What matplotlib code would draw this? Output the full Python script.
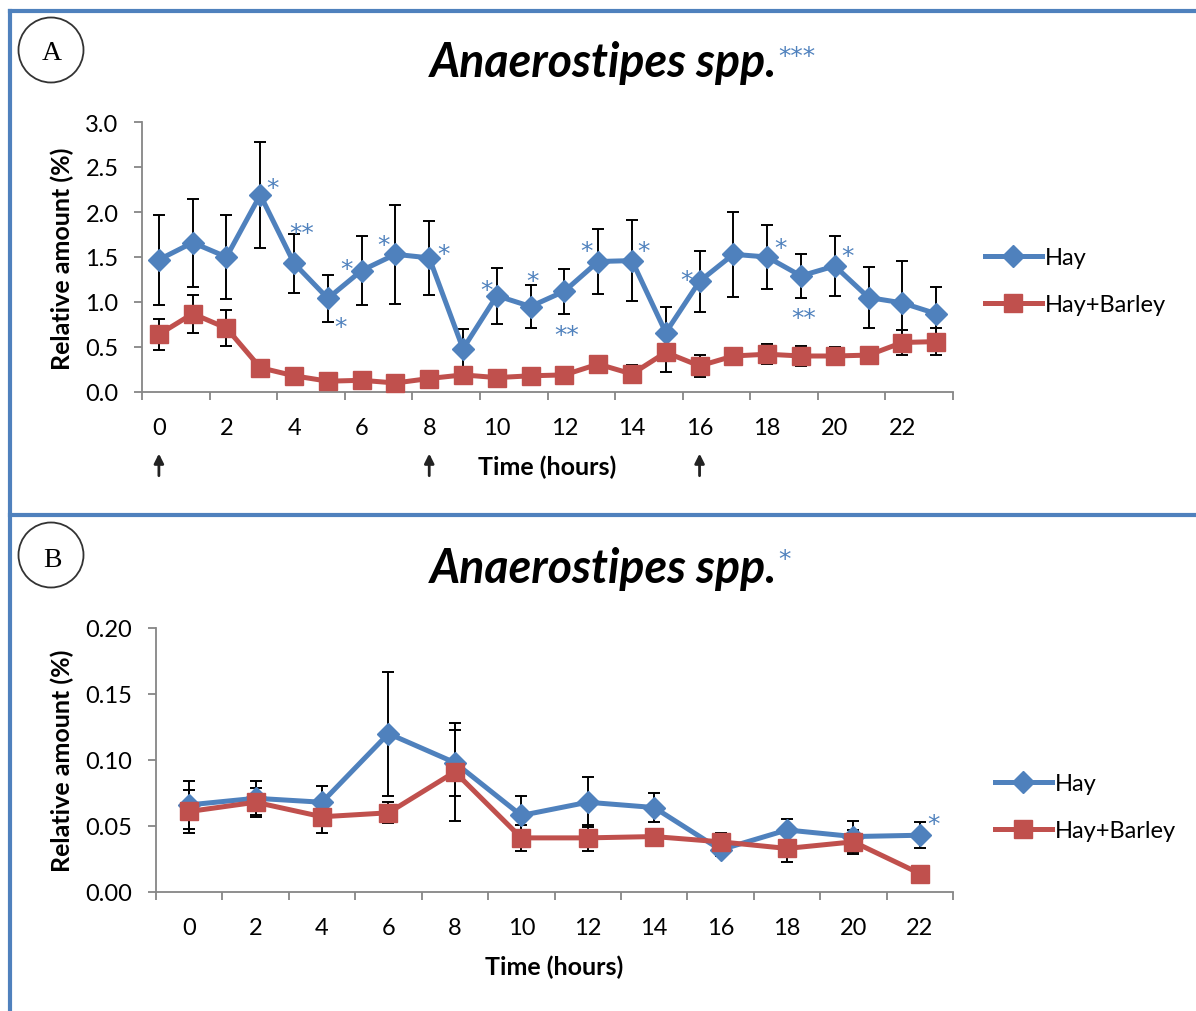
import matplotlib
matplotlib.use("Agg")
import matplotlib.pyplot as plt
import matplotlib.transforms as mtransforms
from matplotlib.lines import Line2D
from matplotlib.patches import Circle
import numpy as np

plt.rcParams['font.family'] = ['Lato', 'DejaVu Sans']

BLUE = '#4F81BD'
RED = '#C0504D'
AXIS = '#868686'
STAR_FONT = ['DejaVu Sans']

# ---- panel A: hourly sampling 0..23 h
hours_a = list(range(24))
hay_a = [1.47, 1.66, 1.50, 2.19, 1.43, 1.04, 1.35, 1.53, 1.49, 0.48, 1.07, 0.95,
         1.12, 1.45, 1.46, 0.66, 1.23, 1.53, 1.50, 1.29, 1.40, 1.05, 0.99, 0.87]
hay_a_err = [0.50, 0.49, 0.47, 0.59, 0.33, 0.26, 0.38, 0.55, 0.41, 0.22, 0.31, 0.24,
             0.25, 0.36, 0.45, 0.29, 0.34, 0.47, 0.36, 0.24, 0.33, 0.34, 0.47, 0.30]
barley_a = [0.64, 0.87, 0.71, 0.27, 0.18, 0.12, 0.13, 0.10, 0.15, 0.19, 0.16, 0.18,
            0.19, 0.31, 0.20, 0.44, 0.29, 0.40, 0.42, 0.40, 0.40, 0.41, 0.55, 0.56]
barley_a_err = [0.17, 0.21, 0.20, 0.06, 0.05, 0.04, 0.05, 0.04, 0.05, 0.06, 0.05, 0.05,
                0.05, 0.07, 0.10, 0.22, 0.12, 0.08, 0.11, 0.11, 0.10, 0.07, 0.14, 0.15]
feeding_hours = [0, 8, 16]

# significance marks in panel A: index, text, offset in pixels from the point
sig_a_idx = [3, 4, 5, 6, 7, 8, 10, 11, 12, 13, 14, 16, 18, 19, 20]
sig_a_txt = ['*', '**', '*', '*', '*', '*', '*', '*', '**', '*', '*', '*', '*', '**', '*']
sig_a_off = [(12, 16), (8, 39), (13, -20), (-15, 10), (-12, 18), (14, 13), (-10, 15),
             (2, 34), (2, -35), (-12, 19), (12, 19), (-13, 10), (13, 18), (3, -33), (13, 19)]

# ---- panel B: 2-hourly sampling
hours_b = [0, 2, 4, 6, 8, 10, 12, 14, 16, 18, 20, 22]
hay_b = [0.066, 0.071, 0.068, 0.120, 0.098, 0.058, 0.068, 0.064, 0.032, 0.047, 0.042, 0.043]
hay_b_err = [0.018, 0.013, 0.012, 0.047, 0.025, 0.015, 0.019, 0.011, 0.005, 0.008, 0.012, 0.010]
barley_b = [0.061, 0.068, 0.057, 0.060, 0.091, 0.041, 0.041, 0.042, 0.038, 0.033, 0.038, 0.014]
barley_b_err = [0.016, 0.011, 0.012, 0.008, 0.037, 0.010, 0.010, 0.005, 0.007, 0.010, 0.009, 0.003]
sig_b_idx = [11]
sig_b_txt = ['*']
sig_b_off = [(14, 20)]

W, H = 1196, 1012
fig = plt.figure(figsize=(W / 100, H / 100), dpi=100)


def px_rect(l, t, r, b):
    return [l / W, 1 - b / H, (r - l) / W, (b - t) / H]


def style_axes(ax, n, label_every, ymax, ystep, yfmt):
    ax.set_xlim(-0.5, n - 0.5)
    ax.set_ylim(0, ymax)
    for s in ['top', 'right']:
        ax.spines[s].set_visible(False)
    for s in ['left', 'bottom']:
        ax.spines[s].set_color(AXIS)
        ax.spines[s].set_linewidth(1.3)
    # tick marks sit between categories, labels in the middle of them
    ax.set_xticks(np.arange(-0.5, n, label_every))
    ax.set_xticklabels([])
    ax.set_xticks(np.arange(0, n, label_every), minor=True)
    ax.tick_params(axis='x', which='major', direction='out', length=6, width=1.3, color=AXIS)
    ax.tick_params(axis='x', which='minor', length=0, pad=18, labelsize=17)
    yt = np.arange(0, ymax + ystep / 2, ystep)
    ax.set_yticks(yt)
    ax.set_yticklabels([yfmt.format(v) for v in yt])
    ax.tick_params(axis='y', direction='out', length=6, width=1.3, color=AXIS, pad=11, labelsize=17)


def draw_series(ax, x, y, err, color, marker, ms, label):
    ax.errorbar(x, y, yerr=err, fmt='none', ecolor='black', elinewidth=1.4,
                capsize=4.5, capthick=1.4, zorder=2, clip_on=False)
    line, = ax.plot(x, y, color=color, lw=3.6, marker=marker, ms=ms, mec=color,
                    mfc=color, zorder=3, label=label, clip_on=False)
    return line


def add_sig(ax, x, y, idx, txt, off):
    for i, t, (dx, dy) in zip(idx, txt, off):
        ax.annotate(t, xy=(x[i], y[i]), xytext=(dx, dy - 9), textcoords='offset pixels',
                    ha='center', va='center', color=BLUE, fontsize=18, family=STAR_FONT,
                    zorder=5)


# ---- panel A
axA = fig.add_axes(px_rect(142, 123, 953, 393))
style_axes(axA, 24, 2, 3.0, 0.5, '{:.1f}')
axA.set_xticklabels([str(h) for h in hours_a[::2]], minor=True)
hA = draw_series(axA, hours_a, hay_a, hay_a_err, BLUE, 'D', 11.5, 'Hay')
bA = draw_series(axA, hours_a, barley_a, barley_a_err, RED, 's', 13.5, 'Hay+Barley')
add_sig(axA, hours_a, hay_a, sig_a_idx, sig_a_txt, sig_a_off)

trA = mtransforms.blended_transform_factory(axA.transData, axA.transAxes)
for h in feeding_hours:
    axA.annotate('', xy=(h, -0.228), xycoords=trA, xytext=(h, -0.31),
                 arrowprops=dict(arrowstyle='-|>', color='#222222', lw=2, mutation_scale=14,
                                 shrinkA=0, shrinkB=0), annotation_clip=False)
axA.text(0.5, -0.274, 'Time (hours)', transform=axA.transAxes, ha='center', va='center',
         fontsize=18, fontweight='bold')

# ---- panel B
axB = fig.add_axes(px_rect(156, 629, 953, 893))
style_axes(axB, 12, 1, 0.20, 0.05, '{:.2f}')
axB.set_xticklabels([str(h) for h in hours_b], minor=True)
xb = list(range(len(hours_b)))
hB = draw_series(axB, xb, hay_b, hay_b_err, BLUE, 'D', 11.5, 'Hay')
bB = draw_series(axB, xb, barley_b, barley_b_err, RED, 's', 13.5, 'Hay+Barley')
add_sig(axB, xb, hay_b, sig_b_idx, sig_b_txt, sig_b_off)
axB.text(0.5, -0.28, 'Time (hours)', transform=axB.transAxes, ha='center', va='center',
         fontsize=18, fontweight='bold')

# legends
for handles, (lx, ly) in [((hA, bA), (985, 282)), ((hB, bB), (995, 808))]:
    fig.legend(handles=handles, loc='center left', bbox_to_anchor=(lx / W, 1 - ly / H),
               frameon=False, fontsize=17, handlelength=2.4, handletextpad=0.15,
               labelspacing=1.12, borderpad=0, borderaxespad=0)

# titles, y labels, panel letters
fig.canvas.draw()
for ty, ystar, stars, ly, cy, letter, lb in [(77, 48, '***', 259, 51, 'A', 60),
                                             (583, 551, '*', 761, 556, 'B', 567)]:
    t = fig.text(604 / W, 1 - ty / H, 'Anaerostipes spp.', ha='center', va='baseline',
                 fontsize=33.5, fontweight='bold', fontstyle='italic')
    bb = t.get_window_extent(renderer=fig.canvas.get_renderer())
    fig.text((bb.x1 + 1) / W, 1 - (ystar + 9) / H, stars, ha='left', va='center',
             color=BLUE, fontsize=18, family=STAR_FONT)
    fig.text(62 / W, 1 - ly / H, 'Relative amount (%)', rotation=90, ha='center',
             va='center', fontsize=18, fontweight='bold')
    fig.patches.append(Circle((0.51, (H - cy) / 100), 0.325, transform=fig.dpi_scale_trans,
                              fill=False, ec='#333333', lw=1.3))
    fig.text(52 / W, 1 - lb / H, letter, ha='center', va='baseline', fontsize=20,
             family=['Liberation Serif', 'DejaVu Serif'])

# blue frame lines
for xs, ys in [([10, W], [12, 12]), ([10, 10], [12, H]), ([10, W], [516, 516])]:
    fig.add_artist(Line2D([x / W for x in xs], [1 - y / H for y in ys], color=BLUE, lw=3,
                          transform=fig.transFigure))

fig.savefig('out.png', dpi=100)
